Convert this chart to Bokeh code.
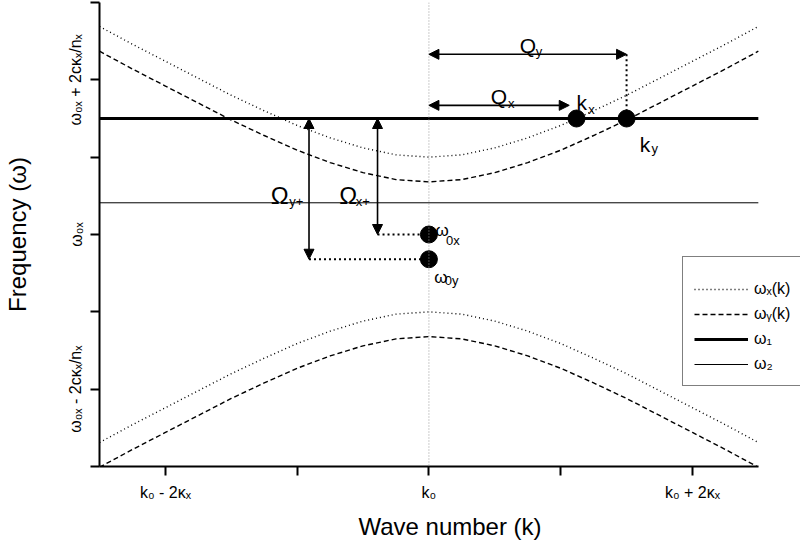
from bokeh.plotting import figure
from bokeh.models import Range1d, FixedTicker, Span, Arrow, NormalHead, Legend, LegendItem
from bokeh.core.properties import value
from bokeh.embed import file_html
from bokeh.resources import INLINE

FONT = "Liberation Sans"

# ---- data (units: k in kappa_x, omega in c*kappa_x/n_x, origin at (k0, w0x))
K_MIN, K_MAX = -2.5, 2.5
K_VIEW_MAX = 2.82          # frame continues to the right for the legend box
W_MIN, W_MAX = -3.0, 3.0
k = [-2.5, -2.25, -2.0, -1.75, -1.5, -1.25, -1.0, -0.75, -0.5, -0.25, 0.0,
     0.25, 0.5, 0.75, 1.0, 1.25, 1.5, 1.75, 2.0, 2.25, 2.5]
wx_upper = [2.69, 2.46, 2.24, 2.02, 1.80, 1.60, 1.41, 1.25, 1.12, 1.03, 1.00,
            1.03, 1.12, 1.25, 1.41, 1.60, 1.80, 2.02, 2.24, 2.46, 2.69]
wx_lower = [-2.69, -2.46, -2.24, -2.02, -1.80, -1.60, -1.41, -1.25, -1.12, -1.03, -1.00,
            -1.03, -1.12, -1.25, -1.41, -1.60, -1.80, -2.02, -2.24, -2.46, -2.69]
wy_upper = [2.37, 2.14, 1.92, 1.70, 1.48, 1.28, 1.09, 0.93, 0.80, 0.71, 0.68,
            0.71, 0.80, 0.93, 1.09, 1.28, 1.48, 1.70, 1.92, 2.14, 2.37]
wy_lower = [-3.01, -2.78, -2.56, -2.34, -2.12, -1.92, -1.73, -1.57, -1.44, -1.35, -1.32,
            -1.35, -1.44, -1.57, -1.73, -1.92, -2.12, -2.34, -2.56, -2.78, -3.01]
omega1 = 1.5
omega2 = 0.41
w0x = 0.0
w0y = -0.32
kx = 1.12
ky = 1.50
Qx_level = 1.67
Qy_level = 2.33
Omx_k = -0.39
Omy_k = -0.91

x_ticks = [-2, -1, 0, 1, 2]
x_tick_labels = {-2: "k₀ - 2κₓ", -1: "", 0: "k₀", 1: "", 2: "k₀ + 2κₓ"}
y_ticks = [-3, -2, -1, 0, 1, 2, 3]
y_tick_labels = {-3: "", -2: "ω₀ₓ - 2cκₓ/nₓ", -1: "", 0: "ω₀ₓ", 1: "", 2: "ω₀ₓ + 2cκₓ/nₓ", 3: ""}

# annotation texts: (main, x, y, size) and (sub, x, y, size)
labels_main = [("Q", 0.69, 2.45, "21px"), ("Q", 0.47, 1.78, "21px"),
               ("k", 1.12, 1.71, "21px"), ("k", 1.60, 1.16, "21px"),
               ("Ω", -1.20, 0.50, "24px"), ("Ω", -0.68, 0.50, "24px"),
               ("ω", 0.05, 0.05, "17px"), ("ω", 0.04, -0.55, "17px")]
labels_sub = [("y", 0.81, 2.37, "13px"), ("x", 0.60, 1.70, "13px"),
              ("x", 1.21, 1.62, "13px"), ("y", 1.69, 1.11, "13px"),
              ("y+", -1.06, 0.43, "13px"), ("x+", -0.555, 0.43, "13px"),
              ("0x", 0.13, -0.08, "13px"), ("0y", 0.12, -0.60, "13px")]

p = figure(frame_width=701, frame_height=464,
           x_range=Range1d(K_MIN, K_VIEW_MAX), y_range=Range1d(W_MIN, W_MAX),
           output_backend="svg", toolbar_location=None,
           min_border_left=91, min_border_right=0, min_border_top=2, min_border_bottom=56)
p.outline_line_color = None
p.xgrid.visible = False
p.ygrid.visible = False
p.background_fill_color = "white"
p.border_fill_color = "white"

for ax in (p.xaxis[0], p.yaxis[0]):
    ax.axis_line_width = 2
    ax.axis_line_color = "black"
    ax.major_tick_line_width = 2
    ax.major_tick_line_color = "black"
    ax.major_tick_in = 0
    ax.major_tick_out = 9
    ax.minor_tick_line_color = None
    ax.major_label_text_font = FONT
    ax.major_label_text_font_size = "16px"
    ax.major_label_text_color = "black"
    ax.axis_label_text_font = FONT
    ax.axis_label_text_font_size = "24px"
    ax.axis_label_text_font_style = "normal"
    ax.axis_label_text_color = "black"

p.xaxis.bounds = (K_MIN, K_MAX)
p.xaxis.ticker = FixedTicker(ticks=x_ticks)
p.xaxis.major_label_overrides = x_tick_labels
p.xaxis.axis_label = "Wave number (k)"
p.xaxis.major_label_standoff = 8
p.xaxis.axis_label_standoff = 9

p.yaxis.ticker = FixedTicker(ticks=y_ticks)
p.yaxis.major_label_overrides = y_tick_labels
p.yaxis.major_label_orientation = "vertical"
p.yaxis.axis_label = "Frequency (ω)"
p.yaxis.major_label_standoff = 6
p.yaxis.axis_label_standoff = 34

# vertical dotted guide at k0
p.add_layout(Span(location=0, dimension="height", line_color="#9a9a9a",
                  line_dash="1 2", line_width=1))

# dispersion curves
rx1 = p.line(k, wx_upper, line_color="black", line_width=1.4, line_dash="1 3")
p.line(k, wx_lower, line_color="black", line_width=1.4, line_dash="1 3")
ry1 = p.line(k, wy_upper, line_color="black", line_width=1.4, line_dash="5 3")
p.line(k, wy_lower, line_color="black", line_width=1.4, line_dash="5 3")
r1 = p.line([K_MIN, K_MAX], [omega1, omega1], line_color="black", line_width=3)
r2 = p.line([K_MIN, K_MAX], [omega2, omega2], line_color="black", line_width=1)

# dotted connectors
p.line([Omx_k, 0], [w0x, w0x], line_color="black", line_width=2, line_dash="2 3")
p.line([Omy_k, 0], [w0y, w0y], line_color="black", line_width=2, line_dash="2 3")
p.line([ky, ky], [Qy_level, omega1], line_color="black", line_width=2, line_dash="2 3")

# arrows
def darrow(x0, y0, x1, y1):
    p.add_layout(Arrow(start=NormalHead(size=10, fill_color="black", line_color="black"),
                       end=NormalHead(size=10, fill_color="black", line_color="black"),
                       x_start=x0, y_start=y0, x_end=x1, y_end=y1,
                       line_color="black", line_width=1.6))

darrow(0, Qy_level, ky, Qy_level)
darrow(0, Qx_level, kx - 0.055, Qx_level)
darrow(Omx_k, omega1, Omx_k, w0x)
darrow(Omy_k, omega1, Omy_k, w0y)

# points
p.scatter([0, 0, kx, ky], [w0x, w0y, omega1, omega1], size=17, marker="circle",
          fill_color="black", line_color="black")

# texts
for t, x, y, s in labels_main:
    p.text(x=[x], y=[y], text=[t], text_font=value(FONT), text_font_size=s,
           text_color="black", text_align="left", text_baseline="alphabetic")
for t, x, y, s in labels_sub:
    p.text(x=[x], y=[y], text=[t], text_font=value(FONT), text_font_size=s,
           text_color="black", text_align="left", text_baseline="alphabetic")

legend = Legend(items=[LegendItem(label="ωₓ(k)", renderers=[rx1]),
                       LegendItem(label="ωᵧ(k)", renderers=[ry1]),
                       LegendItem(label="ω₁", renderers=[r1]),
                       LegendItem(label="ω₂", renderers=[r2])],
                location=(583, 80), title=" ", title_text_font_size="10px", title_standoff=0,
                glyph_width=54, glyph_height=20, spacing=5, padding=11, label_standoff=6,
                label_width=60,
                label_text_font=FONT, label_text_font_size="16px", label_text_color="black",
                border_line_color="black", border_line_width=1.5,
                background_fill_color="white", background_fill_alpha=1.0)
p.add_layout(legend)

open("out.html", "w").write(file_html(p, INLINE))
